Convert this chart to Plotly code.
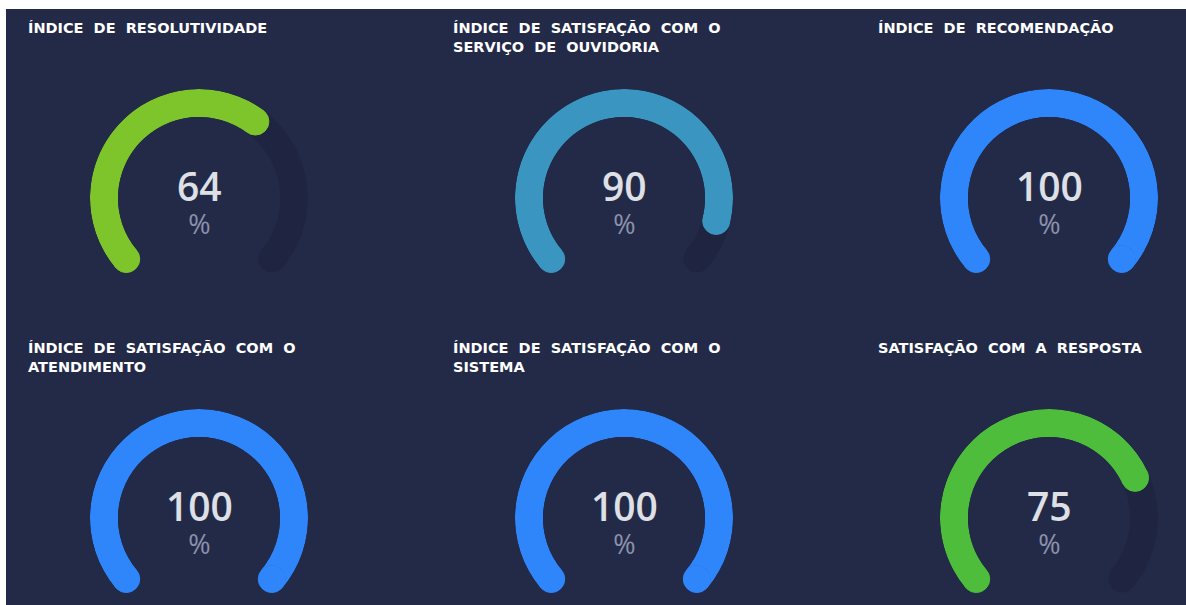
import math
import plotly.graph_objects as go

# --- Data ---
TITLES = [
    "ÍNDICE DE RESOLUTIVIDADE",
    "ÍNDICE DE SATISFAÇÃO COM O<br>SERVIÇO DE OUVIDORIA",
    "ÍNDICE DE RECOMENDAÇÃO",
    "ÍNDICE DE SATISFAÇÃO COM O<br>ATENDIMENTO",
    "ÍNDICE DE SATISFAÇÃO COM O<br>SISTEMA",
    "SATISFAÇÃO COM A RESPOSTA",
]
VALUES = [64, 90, 100, 100, 100, 75]
COLORS = ["#7ec52c", "#3a96c1", "#2f86fb", "#2f86fb", "#2f86fb", "#4dbd3b"]

# --- Style ---
W, H = 1186, 605
BG = "#232a48"
TRACK = "#1f2540"
NUM_COLOR = "#dfe0e6"
PCT_COLOR = "#8c92ab"
START = 220          # arc start angle (deg, counter-clockwise from east)
SWEEP = 260          # degrees covered by 100 %
R_OUT, R_IN = 109, 81
RING = R_OUT - R_IN
COL_X = [199, 624, 1049]
ROW_Y = [198, 518]
TITLE_X = [26, 451, 876]
TITLE_Y = [18, 338]
DROP = R_OUT * math.sin(math.radians(START - 180))


def fx(x):
    return x / W


def fy(y):
    return 1 - y / H


fig = go.Figure()
layout_polars = {}
annotations = []

for i, (title, val, color) in enumerate(zip(TITLES, VALUES, COLORS)):
    row, col = divmod(i, 3)
    cx, cy = COL_X[col], ROW_Y[row]
    pid = "polar" if i == 0 else f"polar{i + 1}"
    sub = pid

    layout_polars[pid] = dict(
        domain=dict(x=[fx(cx - R_OUT), fx(cx + R_OUT)],
                    y=[fy(cy + DROP), fy(cy - R_OUT)]),
        sector=[START - SWEEP, START],
        hole=R_IN / R_OUT,
        bgcolor="rgba(0,0,0,0)",
        radialaxis=dict(range=[0, 1], visible=False, showgrid=False),
        angularaxis=dict(visible=False, showgrid=False, rotation=START,
                         direction="clockwise"),
    )

    span = SWEEP * val / 100
    # track
    fig.add_trace(go.Barpolar(r=[1], theta=[SWEEP / 2], width=[SWEEP], base=0,
                              marker=dict(color=TRACK, line=dict(width=0)),
                              subplot=sub, hoverinfo="skip"))
    # value arc
    fig.add_trace(go.Barpolar(r=[1], theta=[span / 2], width=[span], base=0,
                              marker=dict(color=color, line=dict(width=0)),
                              subplot=sub, hoverinfo="skip"))
    # rounded caps
    fig.add_trace(go.Scatterpolar(r=[0.5], theta=[SWEEP], mode="markers",
                                  marker=dict(size=RING - 1, color=TRACK, line=dict(width=0)),
                                  cliponaxis=False, subplot=sub, hoverinfo="skip"))
    fig.add_trace(go.Scatterpolar(r=[0.5, 0.5], theta=[0, span], mode="markers",
                                  marker=dict(size=RING - 1, color=color,
                                              line=dict(width=1, color=color)),
                                  cliponaxis=False, subplot=sub, hoverinfo="skip"))

    # centre text: value with the % sign below
    annotations.append(dict(
        x=fx(cx), y=fy(cy + 2), xref="paper", yref="paper",
        xanchor="center", yanchor="middle", showarrow=False,
        text=(f"<span style='font-size:39px;color:{NUM_COLOR};font-weight:600'>{val}</span>"
              "<br><span style='font-size:27px'>%</span>"),
        font=dict(family="Open Sans", size=25, color=PCT_COLOR)))
    # title
    annotations.append(dict(x=fx(TITLE_X[col]), y=fy(TITLE_Y[row]), xref="paper", yref="paper",
                            xanchor="left", yanchor="top", align="left",
                            text=title.replace(" ", "  "), showarrow=False,
                            font=dict(family="DejaVu Sans", size=14.5, color="#ffffff",
                                      weight="bold")))

fig.update_layout(
    width=W, height=H,
    margin=dict(l=0, r=0, t=0, b=0),
    paper_bgcolor="#ffffff",
    showlegend=False,
    annotations=annotations,
    shapes=[dict(type="rect", xref="paper", yref="paper", layer="below",
                 x0=fx(6), x1=1, y0=0, y1=fy(9),
                 fillcolor=BG, line=dict(width=0))],
    **layout_polars,
)

fig.write_html("out.html", config={"displayModeBar": False},
               post_script="document.body.style.margin = '0';")
